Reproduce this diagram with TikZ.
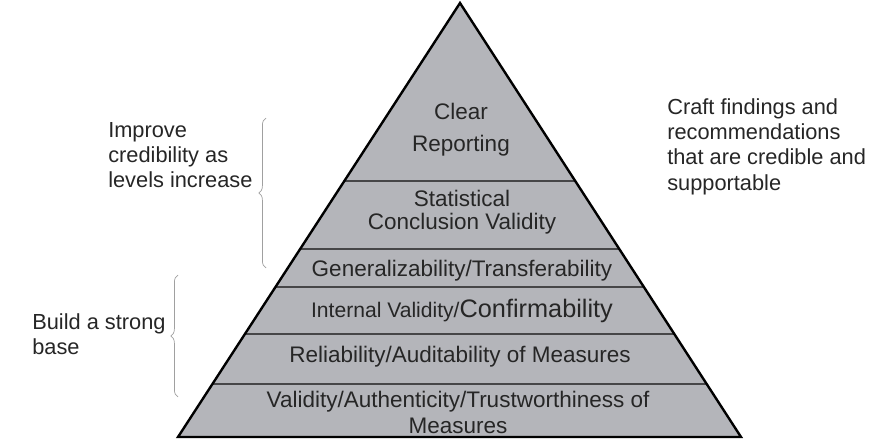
\documentclass[tikz,border=0pt]{standalone}
\usepackage{fontspec}
\setmainfont{Liberation Sans}
\usetikzlibrary{calc,decorations.pathreplacing}

\definecolor{pyrgray}{RGB}{180,181,186}
\definecolor{rulegray}{RGB}{70,70,72}
\definecolor{bracegray}{RGB}{160,160,160}

\begin{document}
\begin{tikzpicture}[
    x=0.025cm, y=-0.025cm,
    level/.style={font=\fontsize{16}{18.5}\selectfont, align=center, inner sep=0pt, text=black!85},
    note/.style={font=\fontsize{15.5}{18}\selectfont, align=left, anchor=north west, inner sep=0pt, text=black!85},
    sidebrace/.style={draw=bracegray, line width=0.5pt, decorate, decoration={brace, amplitude=0.18cm}},
    divider/.style={draw=rulegray, line width=1pt}
]
\useasboundingbox (0,0) rectangle (869,439);

% Pyramid corners
\coordinate (apex) at (460,3);
\coordinate (bl) at (178,437);
\coordinate (br) at (741,437);
\fill[pyrgray] (apex) -- (bl) -- (br) -- cycle;

% Level dividers
\foreach \f in {0.4101,0.5668,0.6544,0.7627,0.8779}
    \draw[divider] ($(apex)!\f!(bl)$) -- ($(apex)!\f!(br)$);

% Outline
\draw[line width=1.7pt, line join=miter] (apex) -- (bl) -- (br) -- cycle;

% Levels, top to bottom
\node[level, font=\fontsize{16}{22.8}\selectfont] (report) at (461,130) {Clear\\Reporting};
\node[level, font=\fontsize{16}{16.2}\selectfont] (stat) at (462,212) {Statistical\\Conclusion Validity};
\node[level] (general) at (462,271) {Generalizability/Transferability};
\node[level, font=\fontsize{15}{18}\selectfont] (internal) at (462,311) {Internal Validity/{\fontsize{18}{20}\selectfont Confirmability}};
\node[level] (reliab) at (460,357) {Reliability/Auditability of Measures};
\node[level, font=\fontsize{16}{18.5}\selectfont] (valid) at (458,412) {Validity/Authenticity/Trustworthiness of\\Measures};

% Side notes
\node[note] (improve) at (108,122) {Improve\\credibility as\\levels increase};
\node[note] (strong) at (32,313) {Build a strong\\base};
\node[note] (craft) at (667,98) {Craft findings and\\recommendations\\that are credible and\\supportable};

% Braces
\draw[sidebrace] (266,268) -- (266,118);
\draw[sidebrace] (178,397) -- (178,275);

\end{tikzpicture}
\end{document}
